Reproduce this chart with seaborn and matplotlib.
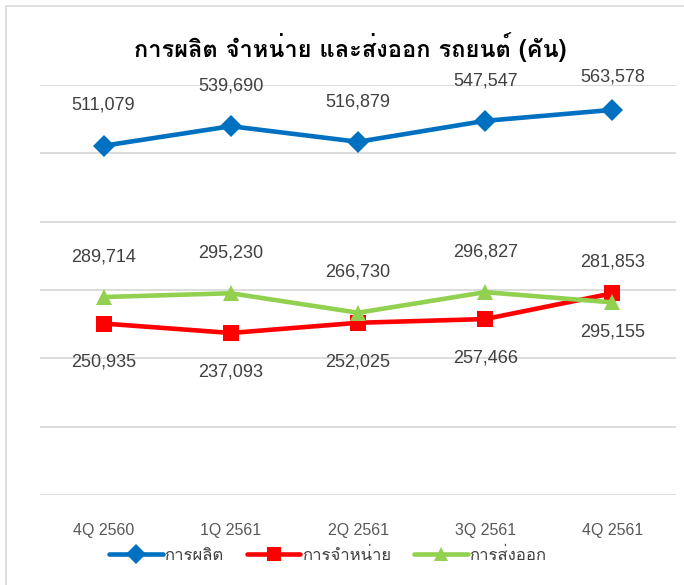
import matplotlib
matplotlib.use("Agg")
import matplotlib.pyplot as plt
from matplotlib import font_manager
from matplotlib.ft2font import FT2Font
from matplotlib.patches import Rectangle
from matplotlib.lines import Line2D
import seaborn as sns
import pandas as pd

quarters = ["4Q 2560", "1Q 2561", "2Q 2561", "3Q 2561", "4Q 2561"]
production = [511079, 539690, 516879, 547547, 563578]
sales = [250935, 237093, 252025, 257466, 295155]
exports = [289714, 295230, 266730, 296827, 281853]
series_names = ["การผลิต", "การจำหน่าย", "การส่งออก"]
title = "การผลิต จำหน่าย และส่งออก รถยนต์ (คัน)"

# find a font that has Thai glyphs
names = []
for f in font_manager.fontManager.ttflist:
    try:
        ft = FT2Font(f.fname)
        if ft.get_char_index(0x0E01) and ft.get_char_index(0x0E08):
            if f.name not in names:
                names.append(f.name)
    except Exception:
        pass

sns.set_theme(style="white")
thai_family = (names[:1] if names else []) + ["DejaVu Sans"]
plt.rcParams["font.family"] = thai_family

df = pd.DataFrame({
    "quarter": quarters * 3,
    "value": production + sales + exports,
    "series": [series_names[0]] * 5 + [series_names[1]] * 5 + [series_names[2]] * 5,
})

colors = {series_names[0]: "#0070C0", series_names[1]: "#FF0000", series_names[2]: "#92D050"}
markers = {series_names[0]: "D", series_names[1]: "s", series_names[2]: "^"}
msizes = {series_names[0]: 12, series_names[1]: 11, series_names[2]: 12}

fig = plt.figure(figsize=(6.84, 5.85), dpi=100)
ax = fig.add_axes([40 / 684, 90 / 585, 636 / 684, 410 / 585])

sns.lineplot(data=df, x="quarter", y="value", hue="series", style="series",
             palette=colors, markers=markers, dashes=False, linewidth=3.3,
             markersize=11.5, markeredgewidth=0, ax=ax, legend=False, sort=False)

ax.set_ylim(0, 600000)
ax.set_xlim(-0.5, 4.5)
ax.set_yticks(range(0, 600001, 100000))
ax.yaxis.grid(True, color="#D9D9D9", linewidth=1.3)
ax.set_yticklabels([])
ax.tick_params(axis="y", length=0)
ax.tick_params(axis="x", length=0, pad=20, labelsize=11.5, labelcolor="#595959")
for s in ax.spines.values():
    s.set_visible(False)
ax.set_xlabel("")
ax.set_ylabel("")
for lab in ax.get_xticklabels():
    lab.set_fontfamily(["Liberation Sans", "DejaVu Sans"])

lab_font = ["Liberation Sans", "DejaVu Sans"]
for i, v in enumerate(production):
    ax.annotate(f"{v:,}", (i, v), xytext=(0, 29 if i < 4 else 24), textcoords="offset points",
                ha="center", va="center", fontsize=13, color="#404040", family=lab_font)
for i, v in enumerate(exports):
    ax.annotate(f"{v:,}", (i, v), xytext=(0, 29), textcoords="offset points",
                ha="center", va="center", fontsize=13, color="#404040", family=lab_font)
for i, v in enumerate(sales):
    ax.annotate(f"{v:,}", (i, v), xytext=(0, -28), textcoords="offset points",
                ha="center", va="center", fontsize=13, color="#404040", family=lab_font)

fig.text(350 / 684, 1 - 47 / 585, title, ha="center", va="center", fontsize=17,
         fontweight="bold", color="#000000")

handles = [Line2D([], [], color=colors[n], marker=markers[n], linewidth=3.3,
                  markersize=10.5, markeredgewidth=0) for n in series_names]
fig.legend(handles, series_names, loc="center", bbox_to_anchor=(328 / 684, 1 - 556 / 585),
           ncol=3, frameon=False, fontsize=12, handlelength=3.2, handletextpad=0.1,
           columnspacing=1.4, labelcolor="#404040")

fig.patches.append(Rectangle((6 / 684, -0.01), 1.0, 1 - 6 / 585 + 0.01, transform=fig.transFigure,
                             fill=False, edgecolor="#D9D9D9", linewidth=1.2))

fig.savefig("out.png", dpi=100, facecolor="white")
